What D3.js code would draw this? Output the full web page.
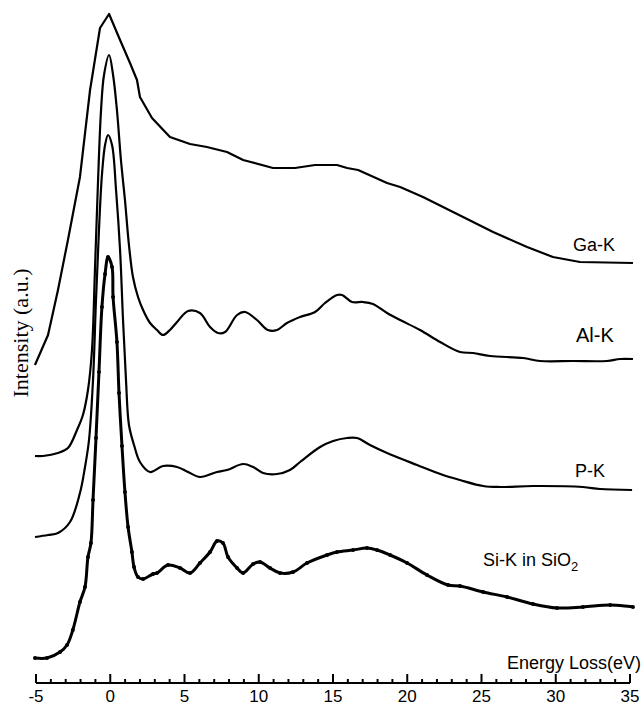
<!DOCTYPE html>
<html>
<head>
<meta charset="utf-8">
<script src="https://cdn.jsdelivr.net/npm/d3@7"></script>
<style>
  html, body { margin: 0; padding: 0; background: #fff; }
  svg { display: block; }
</style>
</head>
<body>
<svg id="chart" width="643" height="707"></svg>
<script>
// Energy-loss spectra, stacked with vertical offsets (arbitrary intensity units)
const gaE = [-5.07,-4.19,-3.52,-2.85,-2.04,-1.36,-0.69,-0.08,0.66,1.33,1.80,2.00,2.81,4.02,5.37,6.51,7.86,8.95,10.96,12.44,13.79,15.27,15.95,16.69,18.64,19.52,21.06,23.76,25.78,28.07,29.81,31.63,35.20];
const gaI = [318,348,393,443,506,593,655,669,643,620,603,586,565,546,539,536,531,523,515,515,518,518,515,513,500,496,486,466,451,436,426,421,420];

const alE = [-5.07,-4.53,-3.52,-2.85,-2.24,-1.84,-1.50,-1.23,-1.03,-0.82,-0.62,-0.42,-0.08,0.19,0.45,0.72,0.99,1.26,1.53,1.87,2.21,2.68,3.15,3.55,4.02,4.50,5.24,6.04,6.72,7.25,7.73,8.54,9.08,9.88,10.62,11.23,11.90,12.78,13.79,14.46,15.27,15.61,16.28,17.02,17.69,18.64,19.52,20.86,22.21,23.55,24.43,25.58,27.80,28.94,31.16,33.45,34.33,35.20];
const alI = [227,227,230,235,253,268,293,333,413,503,573,608,628,608,573,523,483,438,406,386,373,360,353,348,353,361,372,370,356,350,351,368,371,363,353,353,360,366,371,380,388,388,381,381,379,370,363,353,341,331,330,327,325,322,322,322,324,324];

const pE = [-5.07,-4.19,-3.52,-2.71,-2.04,-1.70,-1.43,-1.16,-0.96,-0.76,-0.56,-0.35,-0.15,0.12,0.39,0.66,0.86,1.06,1.26,1.60,2.00,2.68,3.55,4.50,5.24,6.04,7.19,7.86,8.95,9.62,10.29,11.23,12.10,12.78,14.13,15.01,15.95,16.62,17.49,18.64,20.66,22.41,23.55,25.11,26.25,28.47,31.83,32.98,35.14];
const pI = [146,148,150,161,190,216,243,303,383,453,508,538,548,538,493,433,363,303,258,238,221,211,217,216,211,206,211,213,219,216,210,209,213,221,236,242,245,245,238,230,218,208,203,197,196,197,196,194,193];

const siE = [-5.07,-4.26,-3.38,-2.91,-2.52,-2.04,-1.70,-1.50,-1.30,-1.16,-0.96,-0.76,-0.56,-0.35,-0.15,0.12,0.19,0.45,0.59,0.79,0.99,1.20,1.46,1.60,1.87,2.21,2.88,3.15,3.89,4.70,5.37,6.04,6.72,7.19,7.59,7.93,8.54,8.95,9.62,10.08,10.76,11.43,12.31,13.25,14.60,15.27,16.35,17.29,17.96,18.84,19.99,21.33,22.75,23.55,25.11,26.72,28.47,30.08,31.83,33.66,35.20];
const siI = [25,25,31,38,53,81,96,126,140,183,245,311,376,409,426,416,386,341,290,237,191,156,131,116,106,104,109,110,118,115,110,120,131,142,140,126,115,110,119,121,115,110,111,120,128,131,133,135,133,128,120,108,98,97,91,86,79,75,76,78,76];

const seriesNames = ["Ga-K", "Al-K", "P-K", "Si-K in SiO2"];
const xTicks = [-5, 0, 5, 10, 15, 20, 25, 30, 35];

const svg = d3.select("#chart");
const x = d3.scaleLinear().domain([-5, 35]).range([36, 630]);
const y = d3.scaleLinear().domain([0, 670]).range([683, 13]);

const makeLine = curve => d3.line()
  .x(d => x(d[0]))
  .y(d => y(d[1]))
  .curve(curve);

const series = [
  { name: seriesNames[0], pts: d3.zip(gaE, gaI), width: 2.2, curve: d3.curveLinear },
  { name: seriesNames[1], pts: d3.zip(alE, alI), width: 2.2, curve: d3.curveCatmullRom.alpha(0.5) },
  { name: seriesNames[2], pts: d3.zip(pE, pI), width: 2.2, curve: d3.curveCatmullRom.alpha(0.5) },
  { name: seriesNames[3], pts: d3.zip(siE, siI), width: 3, curve: d3.curveCatmullRom.alpha(0.5), markers: true }
];

series.forEach(s => {
  svg.append("path")
    .datum(s.pts)
    .attr("fill", "none")
    .attr("stroke", "#000")
    .attr("stroke-width", s.width)
    .attr("stroke-linejoin", "round")
    .attr("d", makeLine(s.curve));
  if (s.markers) {
    svg.append("g").selectAll("circle")
      .data(s.pts)
      .join("circle")
      .attr("cx", d => x(d[0]))
      .attr("cy", d => y(d[1]))
      .attr("r", 2)
      .attr("fill", "#000");
  }
});

// Bottom axis: major ticks every 5 eV, minor every 1 eV, ticks pointing up
const axisY = 683;
const axisG = svg.append("g").attr("transform", `translate(0,${axisY})`);
axisG.append("line")
  .attr("x1", x(-5)).attr("x2", x(35))
  .attr("stroke", "#000").attr("stroke-width", 2);
axisG.selectAll("line.minor")
  .data(d3.range(-5, 36, 1))
  .join("line")
  .attr("class", "minor")
  .attr("x1", d => x(d)).attr("x2", d => x(d))
  .attr("y1", 0)
  .attr("y2", d => (d % 5 === 0 ? -9 : -4))
  .attr("stroke", "#000").attr("stroke-width", 2);
axisG.selectAll("text.tick")
  .data(xTicks)
  .join("text")
  .attr("class", "tick")
  .attr("x", d => x(d))
  .attr("y", 19)
  .attr("text-anchor", "middle")
  .attr("font-family", "Liberation Sans, Arial, sans-serif")
  .attr("font-size", 17)
  .text(d => d);

svg.append("text")
  .attr("x", 641).attr("y", 669)
  .attr("text-anchor", "end")
  .attr("font-family", "Liberation Sans, Arial, sans-serif")
  .attr("font-size", 18)
  .text("Energy Loss(eV)");

svg.append("text")
  .attr("transform", "translate(28,333) rotate(-90)")
  .attr("text-anchor", "middle")
  .attr("font-family", "Liberation Serif, Times New Roman, serif")
  .attr("font-size", 22)
  .text("Intensity (a.u.)");

// Series labels
const labelFont = "Liberation Sans, Arial, sans-serif";
svg.append("text").attr("x", 573).attr("y", 251)
  .attr("font-family", labelFont).attr("font-size", 18).text(seriesNames[0]);
svg.append("text").attr("x", 576).attr("y", 342)
  .attr("font-family", labelFont).attr("font-size", 20).text(seriesNames[1]);
svg.append("text").attr("x", 575).attr("y", 477)
  .attr("font-family", labelFont).attr("font-size", 18).text(seriesNames[2]);
const si = svg.append("text").attr("x", 483).attr("y", 566)
  .attr("font-family", labelFont).attr("font-size", 18);
si.append("tspan").text("Si-K in SiO");
si.append("tspan").attr("font-size", 13).attr("dy", 5).text("2");
</script>
</body>
</html>
